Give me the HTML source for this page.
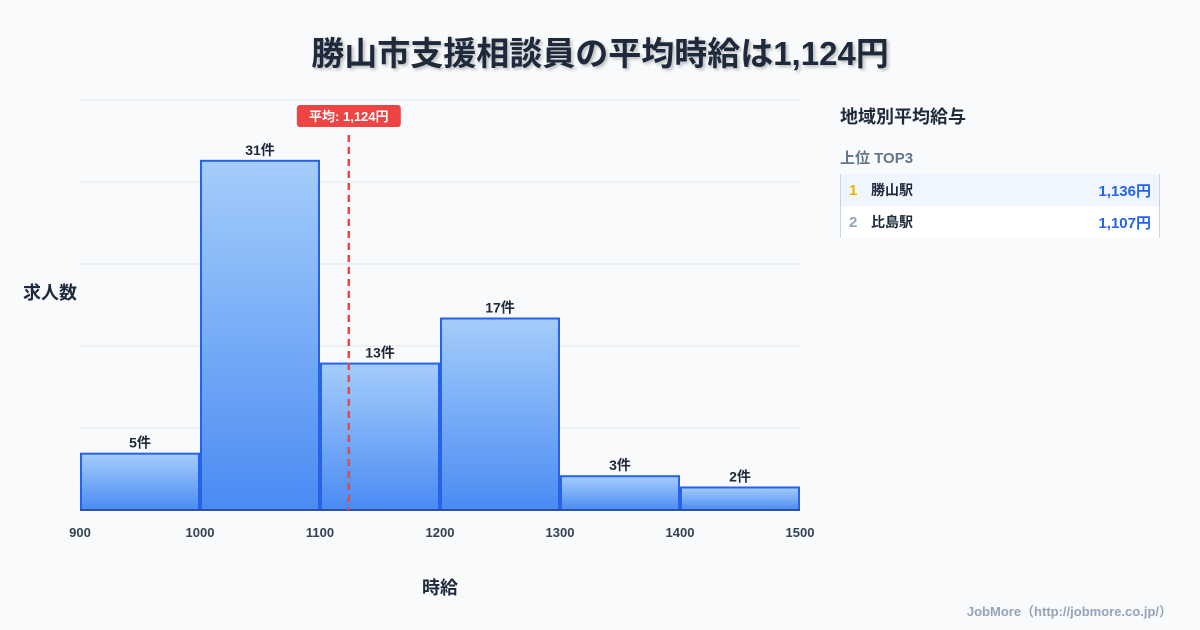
<!DOCTYPE html>
<html><head><meta charset="utf-8"><style>
body{margin:0;width:1200px;height:630px;background:#f8fafc;font-family:"Liberation Sans","Noto Sans CJK JP",sans-serif;overflow:hidden;position:relative}
.title{position:absolute;top:27px;left:0;width:1200px;text-align:center;font-size:33px;font-weight:bold;color:#1e293b;text-shadow:2px 2px 3px rgba(0,0,0,0.25)}
.panel{position:absolute;left:840px;top:103px;width:320px}
.ph{font-size:18px;font-weight:bold;color:#1e293b}
.sub{font-size:15px;font-weight:bold;color:#64748b;margin-top:18px}
.tbl{margin-top:6px;border-left:1px solid #cbd5e1;border-right:1px solid #cbd5e1}
.row{height:32px;display:flex;align-items:center;font-size:14px;font-weight:bold;color:#1e293b;padding:0 8px}
.row .n{width:22px;font-size:15px}
.row .v{margin-left:auto;color:#2563eb;font-size:15px}
.foot{position:absolute;right:28px;bottom:10px;font-size:13px;font-weight:bold;color:#94a3b8}
</style></head><body>
<div class="title">勝山市支援相談員の平均時給は1,124円</div>
<svg id="chart" width="1200" height="630" style="position:absolute;left:0;top:0"></svg>
<div class="panel">
<div class="ph">地域別平均給与</div>
<div class="sub">上位 TOP3</div>
<div class="tbl">
<div class="row" style="background:#eff6ff"><span class="n" style="color:#eab308">1</span><span>勝山駅</span><span class="v">1,136円</span></div>
<div class="row" style="background:#fff"><span class="n" style="color:#94a3b8">2</span><span>比島駅</span><span class="v">1,107円</span></div>
</div></div>
<div class="foot">JobMore（http://jobmore.co.jp/）</div>
<script>
const binStarts=[900,1000,1100,1200,1300,1400];
const binWidth=100;
const counts=[5,31,13,17,3,2];
const xTicks=[900,1000,1100,1200,1300,1400,1500];
const avg=1124;
const yMax=36.4;
const svg=document.getElementById('chart');
const NS='http://www.w3.org/2000/svg';
const L=80,R=800,T=100,B=510;
const xs=v=>L+(v-900)/600*(R-L);
const ys=v=>B-v/yMax*(B-T);
function mk(t,a){const e=document.createElementNS(NS,t);for(const k in a)e.setAttribute(k,a[k]);svg.appendChild(e);return e;}
const defs=mk('defs',{});
defs.innerHTML='<linearGradient id="g" x1="0" y1="0" x2="0" y2="1"><stop offset="0" stop-color="#a5cdfb"/><stop offset="1" stop-color="#4a8bf3"/></linearGradient>';
for(let i=0;i<=5;i++){const y=ys(yMax*i/5);const l=mk('line',{x1:L,x2:R,y1:y,y2:y,stroke:'#e2e8f0','stroke-width':1});

}
binStarts.forEach((s,i)=>{const x0=xs(s),x1=xs(s+binWidth),y=ys(counts[i]);
const r=mk('rect',{x:x0+1,y:y,width:x1-x0-2,height:B-y,fill:'url(#g)',stroke:'#2563eb','stroke-width':2});


const t=mk('text',{x:(x0+x1)/2,y:y-6,'text-anchor':'middle','font-size':14,'font-weight':'bold',fill:'#1e293b'});t.textContent=counts[i]+'件';

});
mk('line',{x1:L,x2:R,y1:B,y2:B,stroke:'#334155','stroke-width':1});
xTicks.forEach(v=>{const t=mk('text',{x:xs(v),y:B+27,'text-anchor':'middle','font-size':13,'font-weight':'bold',fill:'#334155'});t.textContent=v;

});
const ax=xs(avg);
const al=mk('line',{x1:ax,x2:ax,y1:135,y2:B,stroke:'#ef4444','stroke-width':2.5,'stroke-dasharray':'7,5'});


const bg=mk('rect',{x:ax-52,y:105,width:104,height:22,rx:3,fill:'#ef4444'});


const at=mk('text',{x:ax,y:121,'text-anchor':'middle','font-size':13,'font-weight':'bold',fill:'#fff'});at.textContent='平均: 1,124円';


const yt=mk('text',{x:50,y:299,'text-anchor':'middle','font-size':18,'font-weight':'bold',fill:'#1e293b'});yt.textContent='求人数';


const xt=mk('text',{x:440,y:594,'text-anchor':'middle','font-size':18,'font-weight':'bold',fill:'#1e293b'});xt.textContent='時給';


</script>
</body></html>
